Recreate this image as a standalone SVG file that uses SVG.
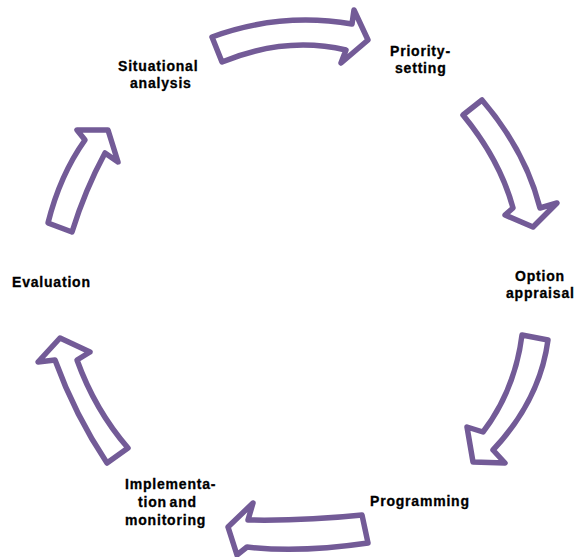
<svg xmlns="http://www.w3.org/2000/svg" width="577" height="557" viewBox="0 0 577 557">
<style>
.arrow{fill:#fff;stroke:#735b97;stroke-width:5.5;stroke-linejoin:round}
.lbl{font-family:"Liberation Sans",Arial,sans-serif;font-weight:bold;font-size:14px;letter-spacing:0.8px;fill:#000;stroke:#000;stroke-width:0.3}
</style>
<rect width="577" height="557" fill="#fff"/>
<g id="connectors">
<path class="arrow" d="M212,37 Q280,12 352,24 L354,10 L368,40 L341,63 L346,50 Q285,36 222,62 Z"/>
<path class="arrow" d="M463,115 L482,100 Q525,150 540,208 L557,203 L533,227 L505,215 L513,208 Q500,160 463,115 Z"/>
<path class="arrow" d="M522,335 L548,340 Q540,400 493,450 L505,463 L473,462 L467,427 L483,432 Q515,390 522,335 Z"/>
<path class="arrow" d="M362,515 Q305,521 248,520 L253,503 L228,527 L237,555 L247,547 Q300,553 368,543 Z"/>
<path class="arrow" d="M107,463 Q75,415 55,360 L38,362 L60,338 L90,352 L77,360 Q95,410 128,448 Z"/>
<path class="arrow" d="M48,223 Q60,175 85,140 L77,130 L108,130 L118,162 L105,153 Q85,190 72,232 Z"/>
</g>
<g id="situational-analysis">
<text class="lbl" x="118" y="71">Situational</text>
<text class="lbl" x="130" y="88">analysis</text>
</g>
<g id="priority-setting">
<text class="lbl" x="390" y="56">Priority-</text>
<text class="lbl" x="395" y="73">setting</text>
</g>
<g id="option-appraisal">
<text class="lbl" x="515" y="281">Option</text>
<text class="lbl" x="506" y="298">appraisal</text>
</g>
<g id="programming">
<text class="lbl" x="370" y="506">Programming</text>
</g>
<g id="implementation-and-monitoring">
<text class="lbl" x="125" y="489">Implementa-</text>
<text class="lbl" x="138" y="507" word-spacing="-2">tion and</text>
<text class="lbl" x="125" y="525">monitoring</text>
</g>
<g id="evaluation">
<text class="lbl" x="12" y="287">Evaluation</text>
</g>
</svg>
